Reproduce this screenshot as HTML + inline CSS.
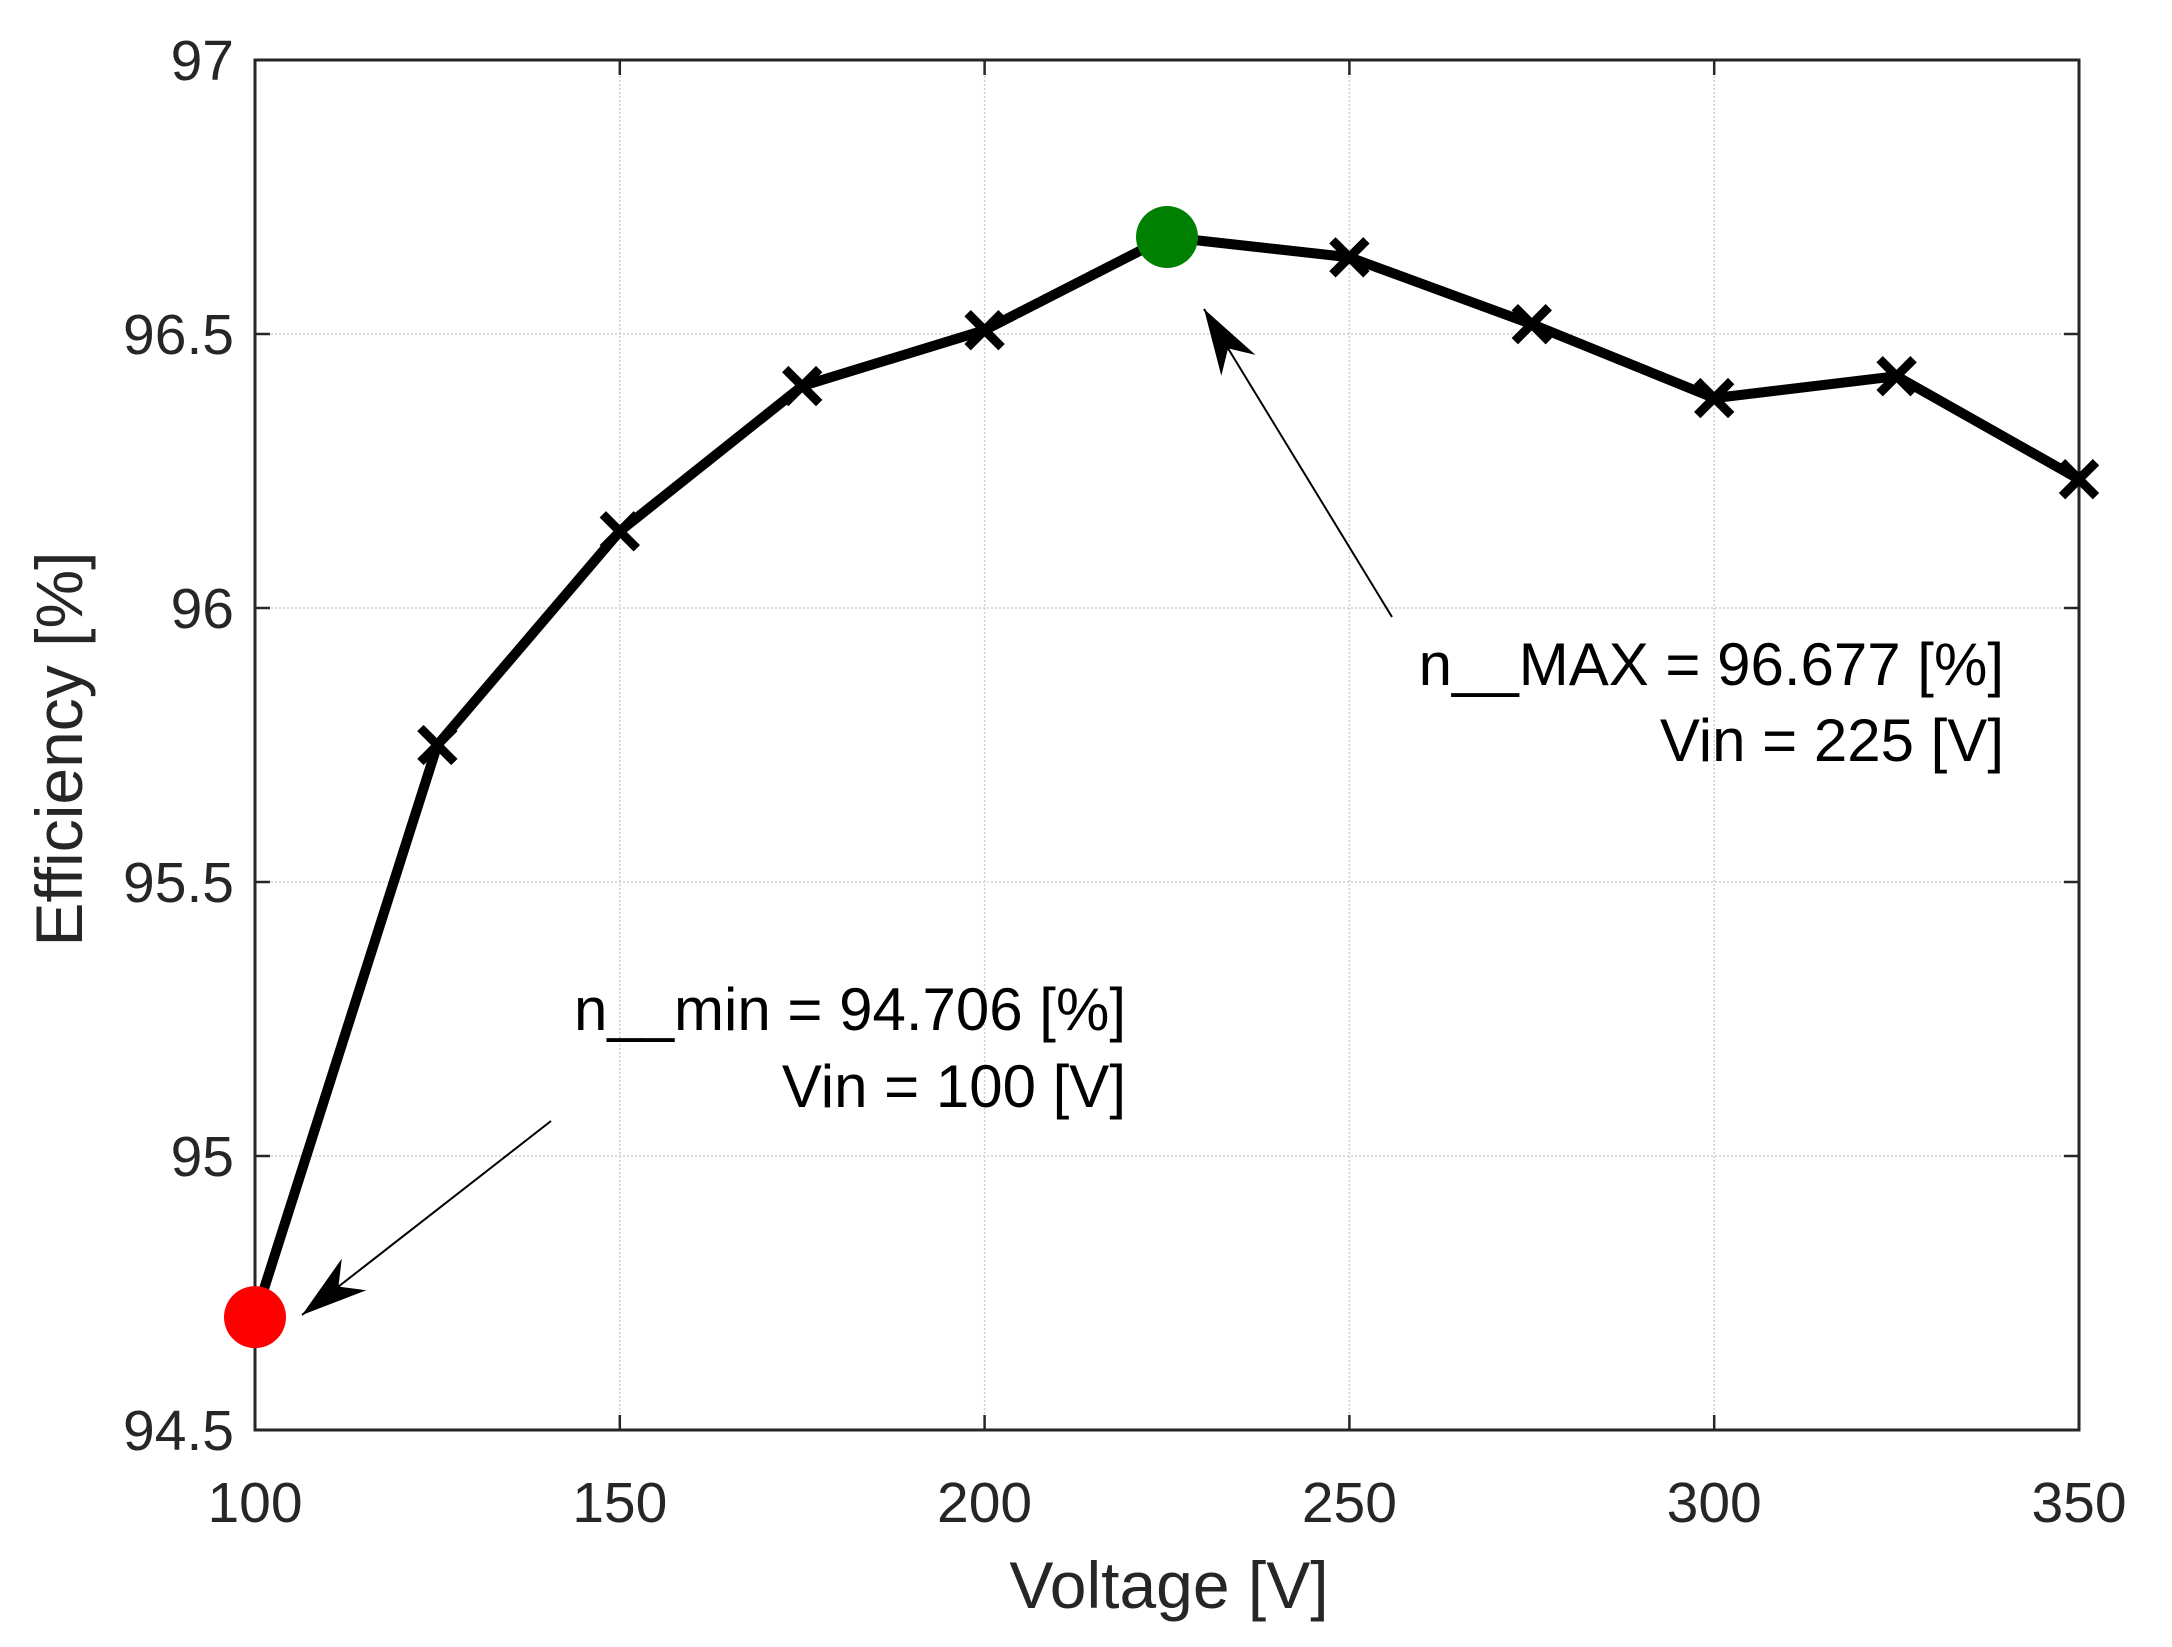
<!DOCTYPE html>
<html><head><meta charset="utf-8"><style>
html,body{margin:0;padding:0;background:#fff}
svg{display:block;font-family:"Liberation Sans",Arial,sans-serif}
</style></head><body>
<svg id="chart" width="2172" height="1647" viewBox="0 0 2172 1647" xmlns="http://www.w3.org/2000/svg">
<g id="grid"></g>
<g id="axes"></g>
<g id="series"></g>
<g id="annot"></g>
</svg>
<script>
const voltages=[100,125,150,175,200,225,250,275,300,325,350];
const efficiency=[94.706,95.75,96.14,96.405,96.507,96.677,96.64,96.518,96.383,96.423,96.235];
const xTicks=[100,150,200,250,300,350];
const yTicks=[94.5,95,95.5,96,96.5,97];
const yTickLabels=["94.5","95","95.5","96","96.5","97"];
const minIdx=0, maxIdx=5;

const L=255,R=2079,T=60,B=1430;
const xMin=100,xMax=350,yMin=94.5,yMax=97;
const sx=v=>L+(v-xMin)/(xMax-xMin)*(R-L);
const sy=v=>B-(v-yMin)/(yMax-yMin)*(B-T);
const NS="http://www.w3.org/2000/svg";
function mk(tag,attrs,parent){const e=document.createElementNS(NS,tag);for(const k in attrs)e.setAttribute(k,attrs[k]);parent.appendChild(e);return e;}
const grid=document.getElementById('grid'),axes=document.getElementById('axes'),series=document.getElementById('series'),annot=document.getElementById('annot');

xTicks.forEach((t,i)=>{
  const x=sx(t);
  if(t!==xMin&&t!==xMax){
    const g=mk('line',{x1:x,x2:x,y1:T,y2:B,stroke:'#d0d0d0','stroke-width':1.5,'stroke-dasharray':'2,2'},grid);
    
    
  }
  const tk1=mk('line',{x1:x,x2:x,y1:B,y2:B-15,stroke:'#262626','stroke-width':2.5},axes);
  
  
  const tk2=mk('line',{x1:x,x2:x,y1:T,y2:T+15,stroke:'#262626','stroke-width':2.5},axes);
  
  
  const lb=mk('text',{x:x,y:1522,'text-anchor':'middle','font-size':57,fill:'#262626'},axes);
  lb.textContent=String(t);
  
  
});
yTicks.forEach((t,i)=>{
  const y=sy(t);
  if(t!==yMin&&t!==yMax){
    const g=mk('line',{x1:L,x2:R,y1:y,y2:y,stroke:'#d0d0d0','stroke-width':1.5,'stroke-dasharray':'2,2'},grid);
    
    
  }
  const tk1=mk('line',{x1:L,x2:L+15,y1:y,y2:y,stroke:'#262626','stroke-width':2.5},axes);
  
  
  const tk2=mk('line',{x1:R,x2:R-15,y1:y,y2:y,stroke:'#262626','stroke-width':2.5},axes);
  
  
  const lb=mk('text',{x:234,y:y+20,'text-anchor':'end','font-size':57,fill:'#262626'},axes);
  lb.textContent=yTickLabels[i];
  
  
});
const box=mk('rect',{x:L,y:T,width:R-L,height:B-T,fill:'none',stroke:'#262626','stroke-width':3},axes);


const xt=mk('text',{x:1169,y:1608,'text-anchor':'middle','font-size':66,fill:'#262626'},axes);
xt.textContent='Voltage [V]';


const yt=mk('text',{x:0,y:0,'text-anchor':'middle','font-size':66,fill:'#262626',transform:'translate(82,749) rotate(-90)'},axes);
yt.textContent='Efficiency [%]';



const pts=voltages.map((v,i)=>sx(v)+','+sy(efficiency[i])).join(' ');
const pl=mk('polyline',{points:pts,fill:'none',stroke:'#000','stroke-width':10,'stroke-linejoin':'round'},series);


voltages.forEach((v,i)=>{
  if(i===minIdx||i===maxIdx)return;
  const x=sx(v),y=sy(efficiency[i]),s=17;
  const p=mk('path',{d:`M${x-s},${y-s}L${x+s},${y+s}M${x-s},${y+s}L${x+s},${y-s}`,stroke:'#000','stroke-width':9},series);
  
  
});
const cmin=mk('circle',{cx:sx(voltages[minIdx]),cy:sy(efficiency[minIdx]),r:31,fill:'#ff0000'},series);


const cmax=mk('circle',{cx:sx(voltages[maxIdx]),cy:sy(efficiency[maxIdx]),r:31,fill:'#008000'},series);



function arrow(x1,y1,x2,y2,name){
  const g=mk('g',{},annot);
  
  
  mk('line',{x1:x1,y1:y1,x2:x2,y2:y2,stroke:'#000','stroke-width':2},g);
  const a=Math.atan2(y2-y1,x2-x1),len=66,w=20;
  const bx=x2-len*Math.cos(a),by=y2-len*Math.sin(a);
  const nx=-Math.sin(a)*w,ny=Math.cos(a)*w;
  const mx=x2-len*0.7*Math.cos(a),my=y2-len*0.7*Math.sin(a);
  mk('path',{d:`M${x2},${y2}L${bx+nx},${by+ny}L${mx},${my}L${bx-nx},${by-ny}Z`,fill:'#000'},g);
}
arrow(1392,617,1204,309,'max-arrow');
arrow(551,1121,302,1315,'min-arrow');
function label(x,y,txt,name){
  const t=mk('text',{x:x,y:y,'text-anchor':'end','font-size':60,fill:'#000'},annot);
  t.textContent=txt;
  
  
}
label(2004,685,'n__MAX = 96.677 [%]','max-label');
label(2004,761,'Vin = 225 [V]','max-vin-label');
label(1126,1030,'n__min = 94.706 [%]','min-label');
label(1126,1107,'Vin = 100 [V]','min-vin-label');
</script>
</body></html>
